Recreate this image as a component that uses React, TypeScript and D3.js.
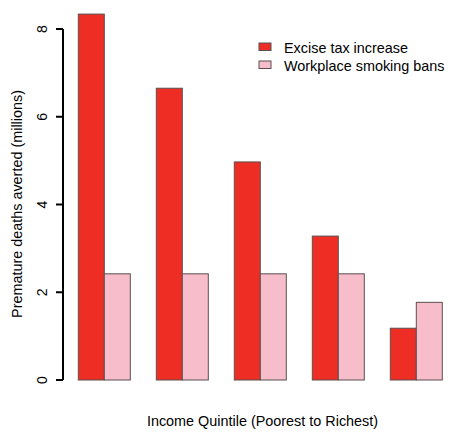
import React from "react";
import * as d3 from "d3";

const quintiles = ["Q1", "Q2", "Q3", "Q4", "Q5"];
const series = ["Excise tax increase", "Workplace smoking bans"];
const exciseValues = [8.34, 6.65, 4.97, 3.28, 1.18];
const banValues = [2.42, 2.42, 2.42, 2.42, 1.77];
const yTicks = [0, 2, 4, 6, 8];
const colors = ["#EE2D24", "#F7BDCB"];

const W = 450;
const H = 435;
const FONT = "'Liberation Sans', Arial, Helvetica, sans-serif";

export default function App() {
  const y = d3.scaleLinear().domain([0, 8]).range([380, 29]);
  const x = d3
    .scaleBand<string>()
    .domain(quintiles)
    .range([52.3, 468.3])
    .paddingInner(1 / 3)
    .paddingOuter(1 / 3);
  const xs = d3.scaleBand<string>().domain(series).range([0, x.bandwidth()]);
  const values = [exciseValues, banValues];

  return (
    <svg
      width={W}
      height={H}
      style={{ position: "absolute", left: 0, top: 0, background: "#fff" }}
      fontFamily={FONT}
    >
      <rect width={W} height={H} fill="#fff" />
      {quintiles.map((q, i) =>
        series.map((s, j) => {
          const v = values[j][i];
          const x0 = (x(q) as number) + (xs(s) as number);
          return (
            <rect
              key={q + s}
              x={x0}
              y={y(v)}
              width={xs.bandwidth()}
              height={y(0) - y(v)}
              fill={colors[j]}
              stroke="#5a5050"
              strokeWidth={1}
            />
          );
        })
      )}
      {/* y axis */}
      <line x1={63} x2={63} y1={y(0)} y2={y(8)} stroke="#000" strokeWidth={2} />
      {yTicks.map((t) => (
        <g key={t}>
          <line x1={56} x2={63} y1={y(t)} y2={y(t)} stroke="#000" strokeWidth={2} />
          <text
            transform={`translate(47,${y(t)}) rotate(-90)`}
            textAnchor="middle"
            fontSize={14}
            fill="#000"
          >
            {t}
          </text>
        </g>
      ))}
      <text
        transform={`translate(22,204) rotate(-90)`}
        textAnchor="middle"
        fontSize={14.4}
        fill="#000"
      >
        Premature deaths averted (millions)
      </text>
      <text x={262.5} y={426} textAnchor="middle" fontSize={14.4} fill="#000">
        Income Quintile (Poorest to Richest)
      </text>
      {/* legend */}
      {series.map((s, j) => (
        <g key={s}>
          <rect
            x={259}
            y={43 + j * 18}
            width={12}
            height={7.5}
            fill={colors[j]}
            stroke="#5a5050"
            strokeWidth={1}
          />
          <text x={284} y={52.5 + j * 18} fontSize={14.4} fill="#000">
            {s}
          </text>
        </g>
      ))}
    </svg>
  );
}
